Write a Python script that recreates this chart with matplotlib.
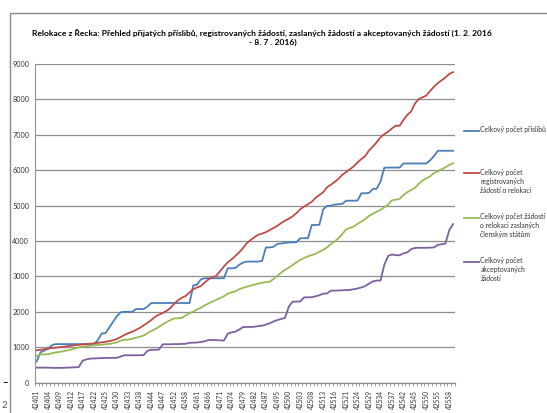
import matplotlib
matplotlib.use("Agg")
import matplotlib.pyplot as plt
from matplotlib.lines import Line2D
from matplotlib.patches import Rectangle

# ---------------- data ----------------
tick_labels = ["42401", "42404", "42409", "42412", "42417", "42422", "42425", "42430",
               "42433", "42438", "42444", "42447", "42452", "42458", "42461", "42466",
               "42471", "42474", "42479", "42482", "42487", "42495", "42500", "42503",
               "42508", "42513", "42516", "42521", "42524", "42529", "42534", "42537",
               "42542", "42545", "42550", "42555", "42558"]

pledges = [600, 860, 910, 960, 1060, 1090, 1090, 1090, 1090, 1090,
           1090, 1090, 1090, 1090, 1090, 1090, 1200, 1390, 1400, 1560,
           1720, 1880, 1990, 2000, 2000, 2000, 2080, 2080, 2080, 2150,
           2250, 2250, 2250, 2250, 2250, 2250, 2250, 2250, 2250, 2250,
           2250, 2750, 2770, 2920, 2950, 2950, 2950, 2950, 2950, 2950,
           3230, 3230, 3240, 3330, 3390, 3420, 3420, 3420, 3420, 3440,
           3820, 3820, 3840, 3920, 3930, 3950, 3960, 3965, 3970, 4080,
           4080, 4080, 4450, 4455, 4460, 4900, 4990, 5000, 5030, 5040,
           5050, 5140, 5140, 5140, 5145, 5350, 5350, 5360, 5470, 5480,
           5680, 6070, 6075, 6075, 6075, 6075, 6190, 6190, 6190, 6190,
           6190, 6190, 6190, 6280, 6400, 6550, 6550, 6550, 6550, 6550]

registered = [915, 930, 945, 965, 980, 990, 1000, 1015, 1030, 1045,
              1060, 1070, 1080, 1090, 1100, 1110, 1125, 1140, 1155, 1175,
              1200, 1235, 1290, 1350, 1400, 1440, 1490, 1550, 1620, 1690,
              1770, 1860, 1920, 1970, 2030, 2110, 2230, 2330, 2400, 2450,
              2550, 2640, 2690, 2730, 2830, 2920, 2980, 3020, 3150, 3280,
              3400, 3480, 3580, 3680, 3800, 3940, 4030, 4110, 4180, 4210,
              4250, 4310, 4370, 4430, 4510, 4575, 4630, 4700, 4790, 4900,
              4975, 5040, 5110, 5220, 5300, 5380, 5520, 5590, 5670, 5760,
              5870, 5950, 6030, 6110, 6220, 6320, 6400, 6560, 6670, 6790,
              6930, 7020, 7090, 7180, 7260, 7255, 7420, 7560, 7660, 7880,
              8010, 8060, 8110, 8240, 8360, 8460, 8540, 8620, 8720, 8770]

sent = [755, 800, 800, 805, 830, 855, 870, 890, 910, 935,
        965, 995, 1015, 1030, 1045, 1055, 1065, 1075, 1085, 1095,
        1115, 1140, 1190, 1210, 1220, 1240, 1270, 1300, 1330, 1400,
        1460, 1510, 1580, 1650, 1710, 1770, 1815, 1820, 1830, 1900,
        1960, 2010, 2070, 2120, 2180, 2240, 2290, 2340, 2390, 2440,
        2510, 2550, 2580, 2640, 2680, 2710, 2740, 2770, 2800, 2820,
        2840, 2850, 2930, 3020, 3110, 3190, 3250, 3320, 3400, 3470,
        3520, 3570, 3605, 3640, 3700, 3750, 3820, 3910, 3990, 4080,
        4200, 4330, 4370, 4410, 4490, 4550, 4620, 4710, 4770, 4830,
        4880, 4950, 5030, 5150, 5170, 5190, 5300, 5380, 5440, 5500,
        5610, 5710, 5770, 5830, 5920, 5970, 6030, 6080, 6150, 6200]

accepted = [425, 425, 425, 425, 420, 418, 418, 420, 425, 430,
            435, 440, 620, 660, 680, 685, 690, 695, 700, 700,
            700, 705, 740, 775, 775, 775, 775, 775, 780, 900,
            930, 930, 935, 1085, 1085, 1085, 1090, 1090, 1095, 1100,
            1125, 1130, 1135, 1150, 1170, 1205, 1205, 1205, 1195, 1190,
            1380, 1420, 1440, 1500, 1570, 1575, 1575, 1580, 1600, 1610,
            1640, 1680, 1730, 1770, 1800, 1830, 2150, 2290, 2290, 2295,
            2410, 2410, 2415, 2440, 2470, 2515, 2520, 2600, 2600, 2605,
            2610, 2615, 2620, 2640, 2660, 2690, 2730, 2800, 2860, 2885,
            2885, 3330, 3580, 3620, 3600, 3600, 3650, 3680, 3770, 3805,
            3810, 3810, 3810, 3815, 3820, 3890, 3910, 3930, 4310, 4480]

series_labels = ["Celkový počet příslibů",
                 "Celkový počet\nregistrovaných\nžádostí o relokaci",
                 "Celkový počet žádostí\no relokaci zaslaných\nčlenským státům",
                 "Celkový počet\nakceptovaných\nžádostí"]
series_colors = ["#4A7EBB", "#BE4B48", "#98B954", "#7D60A0"]

title_l1 = "Relokace z Řecka: Přehled přijatých příslibů, registrovaných žádostí, zaslaných žádostí a akceptovaných žádostí (1. 2. 2016"
title_l2 = "- 8. 7 . 2016)"

# ---------------- figure ----------------
W, H = 547, 413
DPI = 100
fig = plt.figure(figsize=(W / DPI, H / DPI), dpi=DPI)
FONT = ["Lato", "DejaVu Sans"]

def fx(px):
    return px / W

def fy(py):
    return 1 - py / H

# chart-area frame
fig.add_artist(Rectangle((fx(10), fy(420)), fx(560) - fx(10), fy(13) - fy(420),
                         transform=fig.transFigure, fill=False,
                         edgecolor="#8A8A8A", lw=1.0))

ax_left, ax_right, ax_top, ax_bottom = 34.8, 455.0, 64.0, 382.7
ax = fig.add_axes([fx(ax_left), fy(ax_bottom), fx(ax_right) - fx(ax_left),
                   fy(ax_top) - fy(ax_bottom)])

n = len(pledges)
xs = list(range(n))
all_series = [pledges, registered, sent, accepted]
for vals, col in zip(all_series, series_colors):
    ax.plot(xs, vals, color=col, lw=1.3, solid_joinstyle="round")

ax.set_xlim(-0.5, n - 0.5)
ax.set_ylim(0, 9000)
ax.set_yticks(range(0, 9001, 1000))
ax.set_yticklabels([str(v) for v in range(0, 9001, 1000)], fontsize=5.2,
                   color="#333333", family=FONT)
ax.yaxis.grid(True, color="#8E8E8E", lw=0.9)
ax.set_axisbelow(True)
ax.tick_params(axis="y", length=0, pad=4)

major_pos = list(range(0, 3 * len(tick_labels), 3))
ax.set_xticks(major_pos)
ax.set_xticklabels(tick_labels, rotation=90, fontsize=4.8, color="#333333",
                   family=FONT)
ax.set_xticks([i - 0.5 for i in range(n + 1)], minor=True)
ax.tick_params(axis="x", which="major", length=0, pad=5)
ax.tick_params(axis="x", which="minor", length=2.5, width=0.6, color="#8E8E8E",
               direction="out")

for s in ["top", "right"]:
    ax.spines[s].set_visible(False)
ax.spines["left"].set_color("#9A9A9A")
ax.spines["bottom"].set_color("#8E8E8E")
ax.spines["left"].set_linewidth(0.9)
ax.spines["bottom"].set_linewidth(0.9)

# title (scale font so line 1 spans ~462 px)
t1 = fig.text(fx(262), fy(33.3), title_l1, ha="center", va="center",
              fontsize=7, fontweight="bold", family=FONT, color="#000000")
fig.canvas.draw()
w = t1.get_window_extent().width
fs = 7 * 462 / w
t1.set_fontsize(fs)
fig.text(fx(273), fy(42.7), title_l2, ha="center", va="center",
         fontsize=fs, fontweight="bold", family=FONT, color="#000000")

# legend (manual, at the right)
leg_y = [130.7, 173.3, 217.7, 261.7]
for lab, col, y in zip(series_labels, series_colors, leg_y):
    fig.add_artist(Line2D([fx(464), fx(479)], [fy(y), fy(y)],
                          transform=fig.transFigure, color=col, lw=1.3))
    fig.text(fx(480.5), fy(y - 4.3), lab, ha="left", va="top", fontsize=4.9,
             family=FONT, color="#333333", linespacing=1.3)

# stray page marks at bottom-left
fig.text(fx(2), fy(383), "\u2013", ha="left", va="center", fontsize=7,
         fontweight="bold", family=FONT, color="#000000")
fig.text(fx(2), fy(405), "2", ha="left", va="center", fontsize=7,
         family=FONT, color="#555555")

fig.savefig("out.png", dpi=DPI)
